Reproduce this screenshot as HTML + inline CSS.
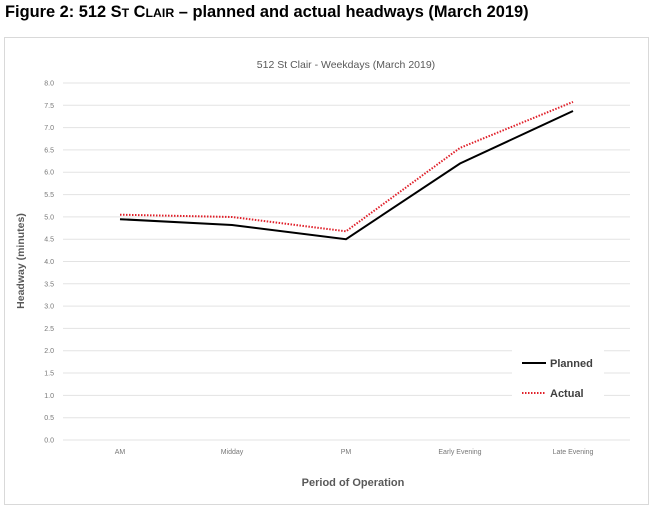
<!DOCTYPE html>
<html><head><meta charset="utf-8"><style>
body{margin:0;background:#fff;width:660px;height:513px;overflow:hidden;font-family:"Liberation Sans",Arial,sans-serif}
</style></head><body>
<svg width="660" height="513" xmlns="http://www.w3.org/2000/svg" font-family="Liberation Sans, Arial, sans-serif">
<text x="5" y="17" font-size="16.4" font-weight="bold" fill="#000">Figure 2: 512 S<tspan font-size="12.3">T</tspan> C<tspan font-size="12.3">LAIR</tspan> – planned and actual headways (March 2019)</text>
<rect x="4.5" y="37.5" width="644" height="467" fill="#fff" stroke="#d9d9d9"/>
<text x="346" y="68" font-size="10.5" fill="#595959" text-anchor="middle">512 St Clair - Weekdays (March 2019)</text>
<g stroke="#e3e3e3" stroke-width="1">
<line x1="63" x2="630" y1="83" y2="83"/><line x1="63" x2="630" y1="105.3" y2="105.3"/><line x1="63" x2="630" y1="127.6" y2="127.6"/><line x1="63" x2="630" y1="149.9" y2="149.9"/><line x1="63" x2="630" y1="172.2" y2="172.2"/><line x1="63" x2="630" y1="194.6" y2="194.6"/><line x1="63" x2="630" y1="216.9" y2="216.9"/><line x1="63" x2="630" y1="239.2" y2="239.2"/><line x1="63" x2="630" y1="261.5" y2="261.5"/><line x1="63" x2="630" y1="283.8" y2="283.8"/><line x1="63" x2="630" y1="306.1" y2="306.1"/><line x1="63" x2="630" y1="328.4" y2="328.4"/><line x1="63" x2="630" y1="350.7" y2="350.7"/><line x1="63" x2="630" y1="373" y2="373"/><line x1="63" x2="630" y1="395.4" y2="395.4"/><line x1="63" x2="630" y1="417.7" y2="417.7"/><line x1="63" x2="630" y1="440" y2="440"/>
</g>
<g font-size="7" fill="#777" text-anchor="end">
<text x="54" y="85.5">8.0</text><text x="54" y="107.8">7.5</text><text x="54" y="130.1">7.0</text><text x="54" y="152.4">6.5</text><text x="54" y="174.7">6.0</text><text x="54" y="197.1">5.5</text><text x="54" y="219.4">5.0</text><text x="54" y="241.7">4.5</text><text x="54" y="264">4.0</text><text x="54" y="286.3">3.5</text><text x="54" y="308.6">3.0</text><text x="54" y="330.9">2.5</text><text x="54" y="353.2">2.0</text><text x="54" y="375.5">1.5</text><text x="54" y="397.9">1.0</text><text x="54" y="420.2">0.5</text><text x="54" y="442.5">0.0</text>
</g>
<g font-size="7" fill="#777" text-anchor="middle">
<text x="120" y="454">AM</text><text x="232" y="454">Midday</text><text x="346" y="454">PM</text><text x="460" y="454">Early Evening</text><text x="573" y="454">Late Evening</text>
</g>
<text x="353" y="486" font-size="11" font-weight="bold" fill="#595959" text-anchor="middle">Period of Operation</text>
<text transform="translate(24,261) rotate(-90)" font-size="10.5" font-weight="bold" fill="#595959" text-anchor="middle">Headway (minutes)</text>
<polyline points="120,219.2 232,225 346,239.2 460,163.5 573,111" fill="none" stroke="#000" stroke-width="2"/>
<polyline points="120,214.7 232,217 346,231.3 460,147.9 573,101.9" fill="none" stroke="#e0202a" stroke-width="2" stroke-dasharray="1.5 1.5"/>
<rect x="512" y="345" width="92" height="62" fill="#fff"/>
<line x1="522" x2="546" y1="363" y2="363" stroke="#000" stroke-width="2"/>
<text x="550" y="367" font-size="11" font-weight="bold" fill="#404040">Planned</text>
<line x1="522" x2="546" y1="393" y2="393" stroke="#e0202a" stroke-width="2" stroke-dasharray="1.5 1.5"/>
<text x="550" y="397" font-size="11" font-weight="bold" fill="#404040">Actual</text>
</svg>
</body></html>
